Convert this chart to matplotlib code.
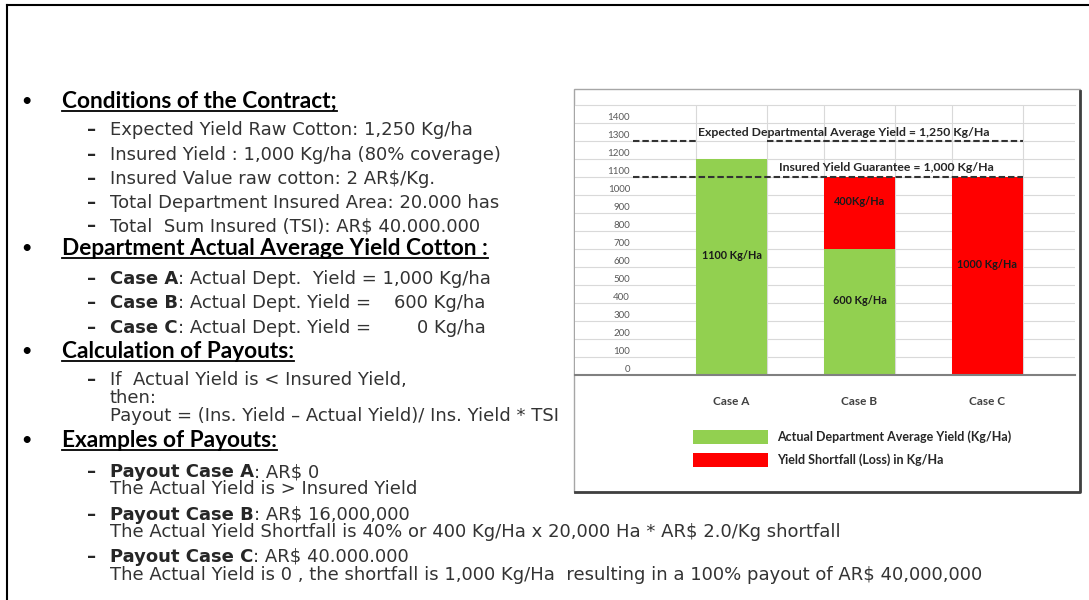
import matplotlib.pyplot as plt
from matplotlib.patches import Rectangle
from matplotlib.transforms import ScaledTranslation

plt.rcParams["text.parse_math"] = False
plt.rcParams["font.family"] = ["Lato", "DejaVu Sans"]

W, H = 1089, 600

# chart data (Kg/Ha, read against the sheet gridlines)
cases = ["Case A", "Case B", "Case C"]
actual_yield = [1200, 700, 0]
shortfall = [0, 400, 1100]
actual_labels = ["1100 Kg/Ha", "600 Kg/Ha", ""]
shortfall_labels = ["", "400Kg/Ha", "1000 Kg/Ha"]
expected_level = 1300
insured_level = 1100
y_ticks = list(range(0, 1500, 100))
legend_labels = ["Actual Department Average Yield (Kg/Ha)", "Yield Shortfall (Loss) in Kg/Ha"]

# slide text: (kind, bold part, normal part)
rows = [
    ("head", "Conditions of the Contract;", ""),
    ("item", "", "Expected Yield Raw Cotton: 1,250 Kg/ha"),
    ("item", "", "Insured Yield : 1,000 Kg/ha (80% coverage)"),
    ("item", "", "Insured Value raw cotton: 2 AR$/Kg."),
    ("item", "", "Total Department Insured Area: 20.000 has"),
    ("item", "", "Total  Sum Insured (TSI): AR$ 40.000.000"),
    ("head", "Department Actual Average Yield Cotton :", ""),
    ("item", "Case A", ": Actual Dept.  Yield = 1,000 Kg/ha"),
    ("item", "Case B", ": Actual Dept. Yield =    600 Kg/ha"),
    ("item", "Case C", ": Actual Dept. Yield =        0 Kg/ha"),
    ("head", "Calculation of Payouts:", ""),
    ("item", "", "If  Actual Yield is < Insured Yield,"),
    ("cont", "", "then:"),
    ("cont", "", "Payout = (Ins. Yield \u2013 Actual Yield)/ Ins. Yield * TSI"),
    ("head", "Examples of Payouts:", ""),
    ("item", "Payout Case A", ": AR$ 0"),
    ("cont", "", "The Actual Yield is > Insured Yield"),
    ("item", "Payout Case B", ": AR$ 16,000,000"),
    ("cont", "", "The Actual Yield Shortfall is 40% or 400 Kg/Ha x 20,000 Ha * AR$ 2.0/Kg shortfall"),
    ("item", "Payout Case C", ": AR$ 40.000.000"),
    ("cont", "", "The Actual Yield is 0 , the shortfall is 1,000 Kg/Ha  resulting in a 100% payout of AR$ 40,000,000"),
]
row_y = [102, 130, 155, 179, 203, 226, 249, 279, 303, 328, 352, 380, 398, 416, 441, 472, 489, 515, 532, 557, 575]

GREEN = "#92D050"
RED = "#FF0000"

fig = plt.figure(figsize=(W / 100, H / 100), dpi=100)

# background axes in pixel units for the slide part
bg = fig.add_axes([0, 0, 1, 1])
bg.set_xlim(0, W)
bg.set_ylim(H, 0)
bg.axis("off")

bg.plot([7, W], [5, 5], color="black", lw=1.5)
bg.plot([7, 7], [5, H], color="black", lw=1.5)

# chart frame with a little shadow
bg.add_patch(Rectangle((574, 89), 506, 403, fill=False, ec="#a6a6a6", lw=1))
bg.plot([1080, 1080, 575], [91, 492, 492], color="#404040", lw=2)

# --- chart ---
ax = fig.add_axes([575 / W, 1 - 375 / H, 500 / W, 270 / H])
x = list(range(len(cases)))
w = 0.55

bars_a = ax.bar(x, actual_yield, width=w, color=GREEN, zorder=2)
bars_s = ax.bar(x, shortfall, width=w, bottom=actual_yield, color=RED, zorder=2)

ax.set_xlim(-1.223, 2.684)
ax.set_ylim(0, 1500)
ax.set_yticks(y_ticks)
ax.set_yticklabels([str(v) for v in y_ticks])
ax.grid(axis="y", color="#d9d9d9", lw=0.8)
ax.set_axisbelow(True)
for xi in x:
    for edge in (xi - w / 2, xi + w / 2):
        ax.axvline(edge, color="#d9d9d9", lw=0.8, zorder=0)

for s in ("left", "right"):
    ax.spines[s].set_visible(False)
ax.spines["top"].set_color("#d9d9d9")
ax.spines["top"].set_linewidth(0.8)
ax.spines["bottom"].set_color("#808080")
ax.spines["bottom"].set_linewidth(1.5)

ax.tick_params(axis="y", length=0, pad=-39.6, labelsize=7, labelcolor="#595959")
shift = ScaledTranslation(0, 0.07, fig.dpi_scale_trans)
for lbl in ax.get_yticklabels():
    lbl.set_transform(lbl.get_transform() + shift)

ax.set_xticks(x)
ax.set_xticklabels(cases, fontweight="bold")
ax.tick_params(axis="x", length=0, pad=15, labelsize=8.5, labelcolor="#404040")

# reference lines (the expected line is broken over bar A)
x_start = -0.77
x_end = x[-1] + w / 2
dash = (0, (3.1, 1.4))
ax.hlines(expected_level, x_start, x[0] - w / 2, colors="#333333", lw=1.5, linestyles=[dash], zorder=3)
ax.hlines(expected_level, x[0] + w / 2, x_end, colors="#333333", lw=1.5, linestyles=[dash], zorder=3)
ax.hlines(insured_level, x_start, x_end, colors="#333333", lw=1.5, linestyles=[dash], zorder=3)

ax.annotate("Expected Departmental Average Yield = 1,250 Kg/Ha", xy=(0.88, expected_level),
            xytext=(0, 6), textcoords="offset points", ha="center", va="center",
            fontsize=8.8, fontweight="bold", color="#262626")
ax.annotate("Insured Yield Guarantee = 1,000 Kg/Ha", xy=(1.21, insured_level),
            xytext=(0, 7), textcoords="offset points", ha="center", va="center",
            fontsize=8.8, fontweight="bold", color="#262626")

for i in x:
    if actual_labels[i]:
        ax.annotate(actual_labels[i], xy=(i, actual_yield[i] / 2), xytext=(0, 8),
                    textcoords="offset points", ha="center", va="center",
                    fontsize=7.8, fontweight="bold", color="#1a1a1a")
    if shortfall_labels[i]:
        ax.annotate(shortfall_labels[i], xy=(i, actual_yield[i] + shortfall[i] / 2), xytext=(0, 8),
                    textcoords="offset points", ha="center", va="center",
                    fontsize=7.8, fontweight="bold", color="#1a1a1a")

fig.legend([bars_a, bars_s], legend_labels, loc="upper left",
           bbox_to_anchor=(693 / W, 1 - 430 / H), frameon=False,
           prop={"family": "Lato", "weight": "bold", "size": 9},
           handlelength=6.0, handleheight=1.36, handletextpad=0.72,
           labelspacing=0.72, borderpad=0, borderaxespad=0, labelcolor="#262626")

# --- slide text ---
BODY = ["DejaVu Sans"]
body_size = 13
head_size = 16.3
r = fig.canvas.get_renderer()

for (kind, bold, rest), y in zip(rows, row_y):
    if kind == "head":
        base = y + 6
        bg.text(20, base, "\u2022", fontsize=14, family=BODY, fontweight="bold",
                color="black", va="baseline")
        t = bg.text(62, base, bold, fontsize=head_size, family=["Lato", "DejaVu Sans"],
                    fontweight="bold", color="black", va="baseline")
        bb = t.get_window_extent(renderer=r)
        bg.plot([62, 62 + bb.width], [base + 3, base + 3], color="black", lw=1.3)
        continue
    base = y + 5
    if kind == "item":
        bg.text(87, base, "\u2013", fontsize=13, family=BODY, fontweight="bold",
                color="#262626", va="baseline")
    xx = 110
    if bold:
        t = bg.text(xx, base, bold, fontsize=body_size, family=BODY, fontweight="bold",
                    color="#262626", va="baseline")
        xx += t.get_window_extent(renderer=r).width
    bg.text(xx, base, rest, fontsize=body_size, family=BODY, color="#333333", va="baseline")

fig.savefig("out.png", dpi=100)
